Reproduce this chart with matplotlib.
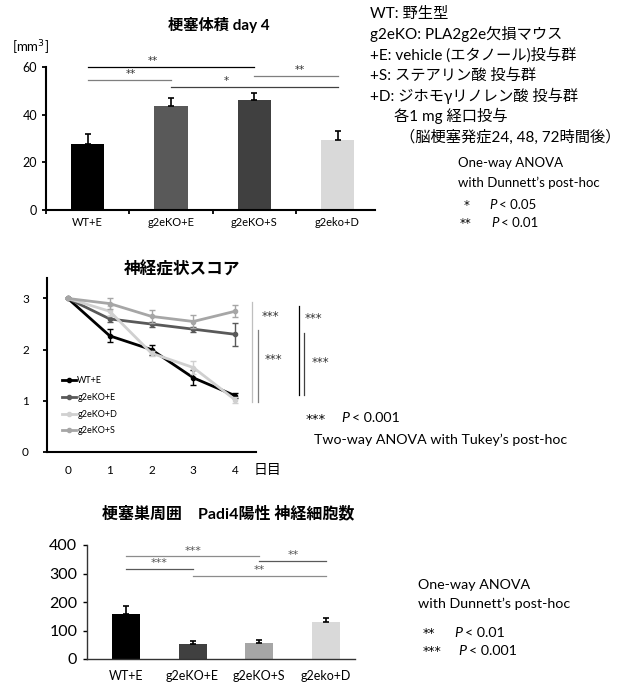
import numpy as np
import matplotlib
matplotlib.use("Agg")
import matplotlib.pyplot as plt
import matplotlib.transforms as mtransforms

plt.rcParams['font.family'] = ['Lato', 'Noto Sans CJK JP', 'DejaVu Sans']

W, H = 627, 685

# --- infarct volume day 4 ---
vol_groups = ["WT+E", "g2eKO+E", "g2eKO+S", "g2eko+D"]
vol_mean = [27.5, 43.5, 46.0, 29.5]
vol_err = [4.5, 3.3, 3.3, 3.5]
vol_colors = ["#000000", "#595959", "#404040", "#d9d9d9"]
# (left group, right group, height, label, label x, colour)
vol_sig = [(0, 2, 60.0, "**", 0.78, "#000000"),
           (0, 1, 54.5, "**", 0.52, "#7f7f7f"),
           (1, 3, 51.6, "*", 1.66, "#404040"),
           (2, 3, 56.2, "**", 2.55, "#7f7f7f")]

# --- neurological score ---
days = [0, 1, 2, 3, 4]
score_names = ["WT+E", "g2eKO+E", "g2eKO+D", "g2eKO+S"]
score_wt = [3.0, 2.27, 2.0, 1.45, 1.1]
score_ko = [3.0, 2.6, 2.5, 2.4, 2.3]
score_d = [3.0, 2.75, 1.93, 1.65, 1.02]
score_s = [3.0, 2.9, 2.65, 2.55, 2.75]
err_wt = [0.0, 0.13, 0.1, 0.15, 0.05]
err_ko = [0.0, 0.05, 0.05, 0.05, 0.23]
err_d = [0.0, 0.1, 0.05, 0.13, 0.06]
err_s = [0.0, 0.1, 0.13, 0.12, 0.12]
score_colors = ["#000000", "#595959", "#d0d0d0", "#a6a6a6"]

# --- Padi4 positive neurons ---
padi_groups = ["WT+E", "g2eKO+E", "g2eKO+S", "g2eko+D"]
padi_mean = [158, 53, 57, 130]
padi_err = [28, 11, 10, 14]
padi_colors = ["#000000", "#404040", "#a6a6a6", "#d9d9d9"]
padi_sig = [(0, 2, 361, "***", 1.0, "#8c8c8c"),
            (0, 1, 316, "***", 0.5, "#595959"),
            (2, 3, 344, "**", 2.5, "#595959"),
            (1, 3, 291, "**", 2.0, "#8c8c8c")]

STAR = ['DejaVu Sans']


def fig_ax(x0, y0, x1, y1):
    return fig.add_axes([x0 / W, 1 - y1 / H, (x1 - x0) / W, (y1 - y0) / H])


def ftext(x, y, s, **kw):
    fig.text(x / W, 1 - y / H, s, va="center", **kw)


fig = plt.figure(figsize=(W / 100, H / 100), dpi=100)

# ================= top bar chart =================
ax1 = fig_ax(46, 67, 375, 210)
x = np.arange(len(vol_groups))
ax1.bar(x, vol_mean, width=0.4, color=vol_colors, zorder=2)
ax1.errorbar(x, vol_mean, yerr=[np.zeros(4), vol_err], fmt="none",
             ecolor="#000000", elinewidth=1.2, capsize=2.5, capthick=1.2)
ax1.set_xlim(-0.5, 3.45)
ax1.set_ylim(0, 60)
ax1.set_yticks([0, 20, 40, 60])
ax1.set_xticks(x)
ax1.set_xticklabels(vol_groups, fontsize=8)
ax1.set_xticks([-0.5, 0.5, 1.5, 2.5], minor=True)
ax1.tick_params(axis="x", which="major", length=0, pad=5)
ax1.tick_params(axis="x", which="minor", length=3, width=1.3, direction="out")
ax1.tick_params(axis="y", labelsize=9, length=3, width=1.3)
for side in ["top", "right"]:
    ax1.spines[side].set_visible(False)
for side in ["left", "bottom"]:
    ax1.spines[side].set_linewidth(1.5)
for a, b, h, lab, tx, c in vol_sig:
    ax1.plot([a, b], [h, h], color=c, lw=0.9, clip_on=False)
    ax1.text(tx, h + 0.3, lab, ha="center", va="bottom", fontsize=7.5,
             color="#333333", family=STAR)
ftext(219, 25, "梗塞体積 day 4", ha="center", fontsize=11, fontweight="bold")
ftext(12, 48, "[mm$^3$]", ha="left", fontsize=9.5)

legend_lines = ["WT: 野生型",
                "g2eKO: PLA2g2e欠損マウス",
                "+E: vehicle (エタノール)投与群",
                "+S: ステアリン酸 投与群",
                "+D: ジホモγリノレン酸 投与群"]
for i, s in enumerate(legend_lines):
    ftext(370, 14 + 20.5 * i, s, ha="left", fontsize=11)
ftext(394, 116, "各1 mg 経口投与", ha="left", fontsize=11)
ftext(400, 137, "（脳梗塞発症24, 48, 72時間後）", ha="left", fontsize=11)
ftext(458, 163, "One-way ANOVA", ha="left", fontsize=9.5)
ftext(458, 183, "with Dunnett’s post-hoc", ha="left", fontsize=9.5)
ftext(464, 206, "*", ha="left", fontsize=8.5, family=STAR)
ftext(489, 205, "P", ha="left", fontsize=9.5, style="italic")
ftext(499, 205, "< 0.05", ha="left", fontsize=9.5)
ftext(460, 224, "**", ha="left", fontsize=8.5, family=STAR)
ftext(491, 223, "P", ha="left", fontsize=9.5, style="italic")
ftext(501, 223, "< 0.01", ha="left", fontsize=9.5)

# ================= neurological score =================
ax2 = fig_ax(47, 278, 256, 452)
series = [(score_wt, err_wt), (score_ko, err_ko), (score_d, err_d), (score_s, err_s)]
for (vals, errs), name, c in zip(series, score_names, score_colors):
    ax2.errorbar(days, vals, yerr=errs, fmt="none", ecolor=c,
                 elinewidth=1, capsize=2, capthick=1)
    ax2.plot(days, vals, color=c, lw=2, marker="o", ms=3, label=name)
ax2.set_xlim(-0.5, 4.5)
ax2.set_ylim(0, 3.4)
ax2.set_yticks([0, 1, 2, 3])
ax2.set_xticks(days)
ax2.tick_params(axis="x", length=0, pad=9, labelsize=8.5)
ax2.tick_params(axis="y", length=3, width=1.3, labelsize=8.5, pad=10)
for side in ["top", "right"]:
    ax2.spines[side].set_visible(False)
for side in ["left", "bottom"]:
    ax2.spines[side].set_linewidth(1.5)
ax2.legend(loc="upper left", bbox_to_anchor=(0.05, 0.46), frameon=False,
           fontsize=6.5, handlelength=1.6, handletextpad=0.1, labelspacing=0.85,
           borderpad=0)
trans = mtransforms.blended_transform_factory(ax2.transAxes, ax2.transData)
vlines = [(0.981, 0.98, 2.93, "#bfbfbf"), (1.010, 0.98, 2.39, "#7f7f7f"),
          (1.206, 1.12, 2.86, "#000000"), (1.230, 1.12, 2.33, "#404040")]
for vx, y0, y1, c in vlines:
    ax2.plot([vx, vx], [y0, y1], color=c, lw=0.9, transform=trans, clip_on=False)
for tx, ty in [(1.029, 2.65), (1.043, 1.80), (1.234, 2.61), (1.268, 1.74)]:
    ax2.text(tx, ty, "***", transform=trans, ha="left", va="center",
             fontsize=8.5, color="#333333", family=STAR)
ftext(182, 270, "神経症状スコア", ha="center", fontsize=12, fontweight="bold")
ftext(254, 470, "日目", ha="left", fontsize=10)
ftext(306, 420, "***", ha="left", fontsize=9.5, family=STAR)
ftext(341, 418, "P", ha="left", fontsize=10.2, style="italic")
ftext(352, 418, "< 0.001", ha="left", fontsize=10.2)
ftext(314, 440, "Two-way ANOVA with Tukey’s post-hoc", ha="left", fontsize=10.2)

# ================= Padi4 bar chart =================
ax3 = fig_ax(87, 545, 355, 659)
x = np.arange(len(padi_groups))
ax3.bar(x, padi_mean, width=0.42, color=padi_colors, zorder=2)
ax3.errorbar(x, padi_mean, yerr=[np.zeros(4), padi_err], fmt="none",
             ecolor="#000000", elinewidth=1.2, capsize=2.5, capthick=1.2)
ax3.set_xlim(-0.58, 3.43)
ax3.set_ylim(0, 400)
ax3.set_yticks([0, 100, 200, 300, 400])
ax3.set_xticks(x)
ax3.set_xticklabels(padi_groups, fontsize=9)
ax3.tick_params(axis="x", length=0, pad=8)
ax3.tick_params(axis="y", length=3, width=1, labelsize=11.5, pad=4)
for side in ["top", "right"]:
    ax3.spines[side].set_visible(False)
for side in ["left", "bottom"]:
    ax3.spines[side].set_linewidth(1.0)
    ax3.spines[side].set_color("#333333")
for a, b, h, lab, tx, c in padi_sig:
    ax3.plot([a, b], [h, h], color=c, lw=0.9, clip_on=False)
    ax3.text(tx, h + 2, lab, ha="center", va="bottom", fontsize=8,
             color="#555555", family=STAR)
ftext(228, 513, "梗塞巣周囲　Padi4陽性 神経細胞数", ha="center", fontsize=11.5,
      fontweight="bold")
ftext(418, 585, "One-way ANOVA", ha="left", fontsize=10.3)
ftext(418, 604, "with Dunnett’s post-hoc", ha="left", fontsize=10.3)
ftext(423, 634, "**", ha="left", fontsize=9, family=STAR)
ftext(454, 633, "P", ha="left", fontsize=10.3, style="italic")
ftext(465, 633, "< 0.01", ha="left", fontsize=10.3)
ftext(423, 652, "***", ha="left", fontsize=9, family=STAR)
ftext(458, 651, "P", ha="left", fontsize=10.3, style="italic")
ftext(469, 651, "< 0.001", ha="left", fontsize=10.3)

fig.savefig("out.png", dpi=100)
